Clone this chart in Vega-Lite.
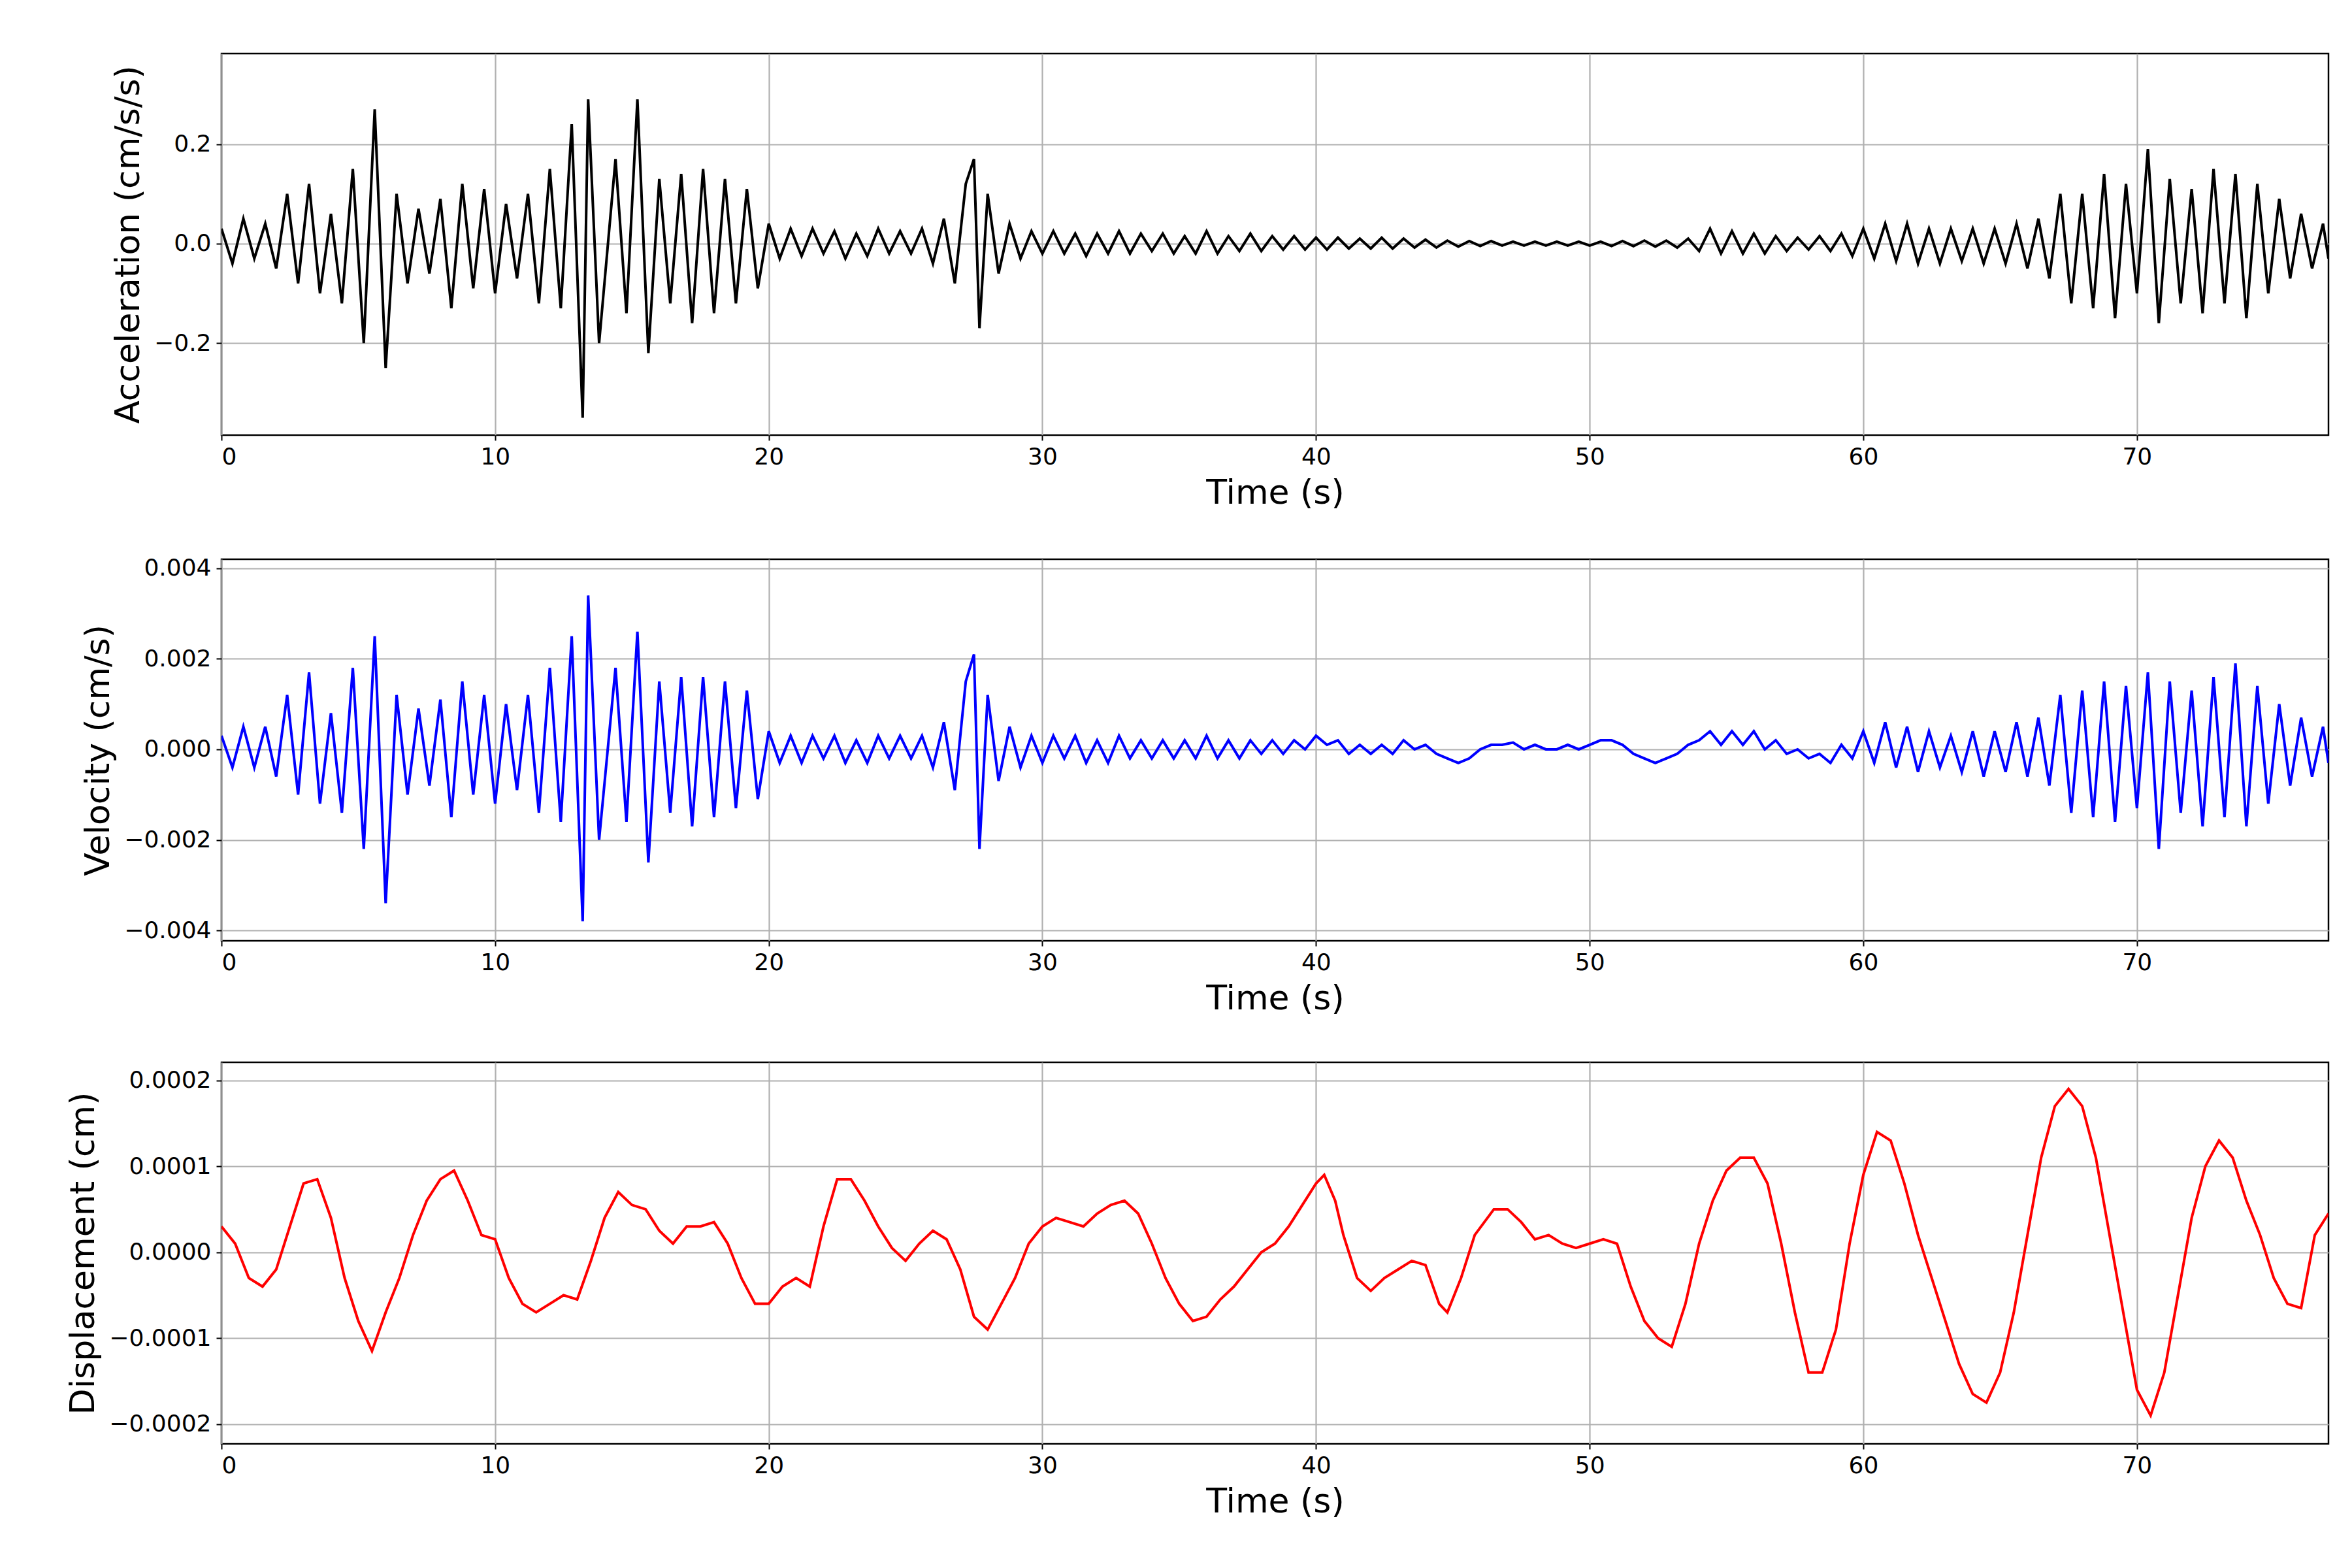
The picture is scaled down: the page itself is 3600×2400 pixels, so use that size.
{
  "$schema": "https://vega.github.io/schema/vega-lite/v6.json",
  "padding": {"left": 100, "top": 80, "right": 20, "bottom": 20},
  "background": "white",
  "config": {
    "font": "DejaVu Sans",
    "view": {"stroke": "black", "strokeWidth": 2.5},
    "axis": {
      "labelFont": "DejaVu Sans", "titleFont": "DejaVu Sans",
      "labelFontSize": 36, "titleFontSize": 52, "titleFontWeight": "normal",
      "labelColor": "black", "titleColor": "black",
      "gridColor": "#b0b0b0", "gridWidth": 2.2,
      "tickColor": "black", "tickWidth": 2, "tickSize": 8,
      "domain": false, "labelPadding": 8, "titlePadding": 12
    }
  },
  "datasets": {
    "av": [
      {"t":0,"a":0.03,"v":0.0003},{"t":0.4,"a":-0.04,"v":-0.0004},{"t":0.8,"a":0.05,"v":0.0005},{"t":1.2,"a":-0.03,"v":-0.0004},
      {"t":1.6,"a":0.04,"v":0.0005},{"t":2.0,"a":-0.05,"v":-0.0006},{"t":2.4,"a":0.1,"v":0.0012},{"t":2.8,"a":-0.08,"v":-0.001},
      {"t":3.2,"a":0.12,"v":0.0017},{"t":3.6,"a":-0.1,"v":-0.0012},{"t":4.0,"a":0.06,"v":0.0008},{"t":4.4,"a":-0.12,"v":-0.0014},
      {"t":4.8,"a":0.15,"v":0.0018},{"t":5.2,"a":-0.2,"v":-0.0022},{"t":5.6,"a":0.27,"v":0.0025},{"t":6.0,"a":-0.25,"v":-0.0034},
      {"t":6.4,"a":0.1,"v":0.0012},{"t":6.8,"a":-0.08,"v":-0.001},{"t":7.2,"a":0.07,"v":0.0009},{"t":7.6,"a":-0.06,"v":-0.0008},
      {"t":8.0,"a":0.09,"v":0.0011},{"t":8.4,"a":-0.13,"v":-0.0015},{"t":8.8,"a":0.12,"v":0.0015},{"t":9.2,"a":-0.09,"v":-0.001},
      {"t":9.6,"a":0.11,"v":0.0012},{"t":10.0,"a":-0.1,"v":-0.0012},{"t":10.4,"a":0.08,"v":0.001},{"t":10.8,"a":-0.07,"v":-0.0009},
      {"t":11.2,"a":0.1,"v":0.0012},{"t":11.6,"a":-0.12,"v":-0.0014},{"t":12.0,"a":0.15,"v":0.0018},{"t":12.4,"a":-0.13,"v":-0.0016},
      {"t":12.8,"a":0.24,"v":0.0025},{"t":13.2,"a":-0.35,"v":-0.0038},{"t":13.4,"a":0.29,"v":0.0034},{"t":13.8,"a":-0.2,"v":-0.002},
      {"t":14.4,"a":0.17,"v":0.0018},{"t":14.8,"a":-0.14,"v":-0.0016},{"t":15.2,"a":0.29,"v":0.0026},{"t":15.6,"a":-0.22,"v":-0.0025},
      {"t":16.0,"a":0.13,"v":0.0015},{"t":16.4,"a":-0.12,"v":-0.0014},{"t":16.8,"a":0.14,"v":0.0016},{"t":17.2,"a":-0.16,"v":-0.0017},
      {"t":17.6,"a":0.15,"v":0.0016},{"t":18.0,"a":-0.14,"v":-0.0015},{"t":18.4,"a":0.13,"v":0.0015},{"t":18.8,"a":-0.12,"v":-0.0013},
      {"t":19.2,"a":0.11,"v":0.0013},{"t":19.6,"a":-0.09,"v":-0.0011},{"t":20.0,"a":0.04,"v":0.0004},{"t":20.4,"a":-0.03,"v":-0.0003},
      {"t":20.8,"a":0.03,"v":0.0003},{"t":21.2,"a":-0.025,"v":-0.0003},{"t":21.6,"a":0.03,"v":0.0003},{"t":22.0,"a":-0.02,"v":-0.0002},
      {"t":22.4,"a":0.025,"v":0.0003},{"t":22.8,"a":-0.03,"v":-0.0003},{"t":23.2,"a":0.02,"v":0.0002},{"t":23.6,"a":-0.025,"v":-0.0003},
      {"t":24.0,"a":0.03,"v":0.0003},{"t":24.4,"a":-0.02,"v":-0.0002},{"t":24.8,"a":0.025,"v":0.0003},{"t":25.2,"a":-0.02,"v":-0.0002},
      {"t":25.6,"a":0.03,"v":0.0003},{"t":26.0,"a":-0.04,"v":-0.0004},{"t":26.4,"a":0.05,"v":0.0006},{"t":26.8,"a":-0.08,"v":-0.0009},
      {"t":27.2,"a":0.12,"v":0.0015},{"t":27.5,"a":0.17,"v":0.0021},{"t":27.7,"a":-0.17,"v":-0.0022},{"t":28.0,"a":0.1,"v":0.0012},
      {"t":28.4,"a":-0.06,"v":-0.0007},{"t":28.8,"a":0.04,"v":0.0005},{"t":29.2,"a":-0.03,"v":-0.0004},{"t":29.6,"a":0.025,"v":0.0003},
      {"t":30.0,"a":-0.02,"v":-0.0003},{"t":30.4,"a":0.025,"v":0.0003},{"t":30.8,"a":-0.02,"v":-0.0002},{"t":31.2,"a":0.02,"v":0.0003},
      {"t":31.6,"a":-0.025,"v":-0.0003},{"t":32.0,"a":0.02,"v":0.0002},{"t":32.4,"a":-0.02,"v":-0.0003},{"t":32.8,"a":0.025,"v":0.0003},
      {"t":33.2,"a":-0.02,"v":-0.0002},{"t":33.6,"a":0.02,"v":0.0002},{"t":34.0,"a":-0.015,"v":-0.0002},{"t":34.4,"a":0.02,"v":0.0002},
      {"t":34.8,"a":-0.02,"v":-0.0002},{"t":35.2,"a":0.015,"v":0.0002},{"t":35.6,"a":-0.02,"v":-0.0002},{"t":36.0,"a":0.025,"v":0.0003},
      {"t":36.4,"a":-0.02,"v":-0.0002},{"t":36.8,"a":0.015,"v":0.0002},{"t":37.2,"a":-0.015,"v":-0.0002},{"t":37.6,"a":0.02,"v":0.0002},
      {"t":38.0,"a":-0.015,"v":-0.0001},{"t":38.4,"a":0.015,"v":0.0002},{"t":38.8,"a":-0.012,"v":-0.0001},{"t":39.2,"a":0.015,"v":0.0002},
      {"t":39.6,"a":-0.012,"v":0.0},{"t":40.0,"a":0.012,"v":0.0003},{"t":40.4,"a":-0.012,"v":0.0001},{"t":40.8,"a":0.012,"v":0.0002},
      {"t":41.2,"a":-0.01,"v":-0.0001},{"t":41.6,"a":0.01,"v":0.0001},{"t":42.0,"a":-0.01,"v":-0.0001},{"t":42.4,"a":0.012,"v":0.0001},
      {"t":42.8,"a":-0.01,"v":-0.0001},{"t":43.2,"a":0.01,"v":0.0002},{"t":43.6,"a":-0.008,"v":0.0},{"t":44.0,"a":0.008,"v":0.0001},
      {"t":44.4,"a":-0.008,"v":-0.0001},{"t":44.8,"a":0.006,"v":-0.0002},{"t":45.2,"a":-0.006,"v":-0.0003},{"t":45.6,"a":0.005,"v":-0.0002},
      {"t":46.0,"a":-0.005,"v":0.0},{"t":46.4,"a":0.005,"v":0.0001},{"t":46.8,"a":-0.004,"v":0.0001},{"t":47.2,"a":0.004,"v":0.00015},
      {"t":47.6,"a":-0.004,"v":0.0},{"t":48.0,"a":0.004,"v":0.0001},{"t":48.4,"a":-0.004,"v":0.0},{"t":48.8,"a":0.004,"v":0.0},
      {"t":49.2,"a":-0.004,"v":0.0001},{"t":49.6,"a":0.004,"v":0.0},{"t":50.0,"a":-0.004,"v":0.0001},{"t":50.4,"a":0.004,"v":0.0002},
      {"t":50.8,"a":-0.005,"v":0.0002},{"t":51.2,"a":0.005,"v":0.0001},{"t":51.6,"a":-0.005,"v":-0.0001},{"t":52.0,"a":0.006,"v":-0.0002},
      {"t":52.4,"a":-0.006,"v":-0.0003},{"t":52.8,"a":0.006,"v":-0.0002},{"t":53.2,"a":-0.008,"v":-0.0001},{"t":53.6,"a":0.01,"v":0.0001},
      {"t":54.0,"a":-0.015,"v":0.0002},{"t":54.4,"a":0.03,"v":0.0004},{"t":54.8,"a":-0.02,"v":0.0001},{"t":55.2,"a":0.025,"v":0.0004},
      {"t":55.6,"a":-0.02,"v":0.0001},{"t":56.0,"a":0.02,"v":0.0004},{"t":56.4,"a":-0.02,"v":0.0},{"t":56.8,"a":0.015,"v":0.0002},
      {"t":57.2,"a":-0.015,"v":-0.0001},{"t":57.6,"a":0.012,"v":0.0},{"t":58.0,"a":-0.012,"v":-0.0002},{"t":58.4,"a":0.015,"v":-0.0001},
      {"t":58.8,"a":-0.015,"v":-0.0003},{"t":59.2,"a":0.02,"v":0.0001},{"t":59.6,"a":-0.025,"v":-0.0002},{"t":60.0,"a":0.03,"v":0.0004},
      {"t":60.4,"a":-0.03,"v":-0.0003},{"t":60.8,"a":0.04,"v":0.0006},{"t":61.2,"a":-0.035,"v":-0.0004},{"t":61.6,"a":0.04,"v":0.0005},
      {"t":62.0,"a":-0.04,"v":-0.0005},{"t":62.4,"a":0.03,"v":0.0004},{"t":62.8,"a":-0.04,"v":-0.0004},{"t":63.2,"a":0.03,"v":0.0003},
      {"t":63.6,"a":-0.035,"v":-0.0005},{"t":64.0,"a":0.03,"v":0.0004},{"t":64.4,"a":-0.04,"v":-0.0006},{"t":64.8,"a":0.03,"v":0.0004},
      {"t":65.2,"a":-0.04,"v":-0.0005},{"t":65.6,"a":0.04,"v":0.0006},{"t":66.0,"a":-0.05,"v":-0.0006},{"t":66.4,"a":0.05,"v":0.0007},
      {"t":66.8,"a":-0.07,"v":-0.0008},{"t":67.2,"a":0.1,"v":0.0012},{"t":67.6,"a":-0.12,"v":-0.0014},{"t":68.0,"a":0.1,"v":0.0013},
      {"t":68.4,"a":-0.13,"v":-0.0015},{"t":68.8,"a":0.14,"v":0.0015},{"t":69.2,"a":-0.15,"v":-0.0016},{"t":69.6,"a":0.12,"v":0.0014},
      {"t":70.0,"a":-0.1,"v":-0.0013},{"t":70.4,"a":0.19,"v":0.0017},{"t":70.8,"a":-0.16,"v":-0.0022},{"t":71.2,"a":0.13,"v":0.0015},
      {"t":71.6,"a":-0.12,"v":-0.0014},{"t":72.0,"a":0.11,"v":0.0013},{"t":72.4,"a":-0.14,"v":-0.0017},{"t":72.8,"a":0.15,"v":0.0016},
      {"t":73.2,"a":-0.12,"v":-0.0015},{"t":73.6,"a":0.14,"v":0.0019},{"t":74.0,"a":-0.15,"v":-0.0017},{"t":74.4,"a":0.12,"v":0.0014},
      {"t":74.8,"a":-0.1,"v":-0.0012},{"t":75.2,"a":0.09,"v":0.001},{"t":75.6,"a":-0.07,"v":-0.0008},{"t":76.0,"a":0.06,"v":0.0007},
      {"t":76.4,"a":-0.05,"v":-0.0006},{"t":76.8,"a":0.04,"v":0.0005},{"t":77.0,"a":-0.03,"v":-0.0003}
    ],
    "disp": [
      {"t":0,"d":3e-5},{"t":0.5,"d":1e-5},{"t":1,"d":-3e-5},{"t":1.5,"d":-4e-5},{"t":2,"d":-2e-5},{"t":2.5,"d":3e-5},{"t":3,"d":8e-5},{"t":3.5,"d":8.5e-5},
      {"t":4,"d":4e-5},{"t":4.5,"d":-3e-5},{"t":5,"d":-8e-5},{"t":5.5,"d":-1.15e-4},{"t":6,"d":-7e-5},{"t":6.5,"d":-3e-5},{"t":7,"d":2e-5},{"t":7.5,"d":6e-5},
      {"t":8,"d":8.5e-5},{"t":8.5,"d":9.5e-5},{"t":9,"d":6e-5},{"t":9.5,"d":2e-5},{"t":10,"d":1.5e-5},{"t":10.5,"d":-3e-5},{"t":11,"d":-6e-5},{"t":11.5,"d":-7e-5},
      {"t":12,"d":-6e-5},{"t":12.5,"d":-5e-5},{"t":13,"d":-5.5e-5},{"t":13.5,"d":-1e-5},{"t":14,"d":4e-5},{"t":14.5,"d":7e-5},{"t":15,"d":5.5e-5},{"t":15.5,"d":5e-5},
      {"t":16,"d":2.5e-5},{"t":16.5,"d":1e-5},{"t":17,"d":3e-5},{"t":17.5,"d":3e-5},{"t":18,"d":3.5e-5},{"t":18.5,"d":1e-5},{"t":19,"d":-3e-5},{"t":19.5,"d":-6e-5},
      {"t":20,"d":-6e-5},{"t":20.5,"d":-4e-5},{"t":21,"d":-3e-5},{"t":21.5,"d":-4e-5},{"t":22,"d":3e-5},{"t":22.5,"d":8.5e-5},{"t":23,"d":8.5e-5},{"t":23.5,"d":6e-5},
      {"t":24,"d":3e-5},{"t":24.5,"d":5e-6},{"t":25,"d":-1e-5},{"t":25.5,"d":1e-5},{"t":26,"d":2.5e-5},{"t":26.5,"d":1.5e-5},{"t":27,"d":-2e-5},{"t":27.5,"d":-7.5e-5},
      {"t":28,"d":-9e-5},{"t":28.5,"d":-6e-5},{"t":29,"d":-3e-5},{"t":29.5,"d":1e-5},{"t":30,"d":3e-5},{"t":30.5,"d":4e-5},{"t":31,"d":3.5e-5},{"t":31.5,"d":3e-5},
      {"t":32,"d":4.5e-5},{"t":32.5,"d":5.5e-5},{"t":33,"d":6e-5},{"t":33.5,"d":4.5e-5},{"t":34,"d":1e-5},{"t":34.5,"d":-3e-5},{"t":35,"d":-6e-5},{"t":35.5,"d":-8e-5},
      {"t":36,"d":-7.5e-5},{"t":36.5,"d":-5.5e-5},{"t":37,"d":-4e-5},{"t":37.5,"d":-2e-5},{"t":38,"d":0},{"t":38.5,"d":1e-5},{"t":39,"d":3e-5},{"t":39.5,"d":5.5e-5},
      {"t":40,"d":8e-5},{"t":40.3,"d":9e-5},{"t":40.7,"d":6e-5},{"t":41,"d":2e-5},{"t":41.5,"d":-3e-5},{"t":42,"d":-4.5e-5},{"t":42.5,"d":-3e-5},{"t":43,"d":-2e-5},
      {"t":43.5,"d":-1e-5},{"t":44,"d":-1.5e-5},{"t":44.5,"d":-6e-5},{"t":44.8,"d":-7e-5},{"t":45.3,"d":-3e-5},{"t":45.8,"d":2e-5},{"t":46.5,"d":5e-5},{"t":47,"d":5e-5},
      {"t":47.5,"d":3.5e-5},{"t":48,"d":1.5e-5},{"t":48.5,"d":2e-5},{"t":49,"d":1e-5},{"t":49.5,"d":5e-6},{"t":50,"d":1e-5},{"t":50.5,"d":1.5e-5},{"t":51,"d":1e-5},
      {"t":51.5,"d":-4e-5},{"t":52,"d":-8e-5},{"t":52.5,"d":-1e-4},{"t":53,"d":-1.1e-4},{"t":53.5,"d":-6e-5},{"t":54,"d":1e-5},{"t":54.5,"d":6e-5},{"t":55,"d":9.5e-5},
      {"t":55.5,"d":1.1e-4},{"t":56,"d":1.1e-4},{"t":56.5,"d":8e-5},{"t":57,"d":1e-5},{"t":57.5,"d":-7e-5},{"t":58,"d":-1.4e-4},{"t":58.5,"d":-1.4e-4},{"t":59,"d":-9e-5},
      {"t":59.5,"d":1e-5},{"t":60,"d":9e-5},{"t":60.5,"d":1.4e-4},{"t":61,"d":1.3e-4},{"t":61.5,"d":8e-5},{"t":62,"d":2e-5},{"t":62.5,"d":-3e-5},{"t":63,"d":-8e-5},
      {"t":63.5,"d":-1.3e-4},{"t":64,"d":-1.65e-4},{"t":64.5,"d":-1.75e-4},{"t":65,"d":-1.4e-4},{"t":65.5,"d":-7e-5},{"t":66,"d":2e-5},{"t":66.5,"d":1.1e-4},{"t":67,"d":1.7e-4},
      {"t":67.5,"d":1.9e-4},{"t":68,"d":1.7e-4},{"t":68.5,"d":1.1e-4},{"t":69,"d":2e-5},{"t":69.5,"d":-7e-5},{"t":70,"d":-1.6e-4},{"t":70.5,"d":-1.9e-4},{"t":71,"d":-1.4e-4},
      {"t":71.5,"d":-5e-5},{"t":72,"d":4e-5},{"t":72.5,"d":1e-4},{"t":73,"d":1.3e-4},{"t":73.5,"d":1.1e-4},{"t":74,"d":6e-5},{"t":74.5,"d":2e-5},{"t":75,"d":-3e-5},
      {"t":75.5,"d":-6e-5},{"t":76,"d":-6.5e-5},{"t":76.5,"d":2e-5},{"t":77,"d":4.5e-5}
    ]
  },
  "vconcat": [
    {
      "width": 3225, "height": 584,
      "data": {"name": "av"},
      "mark": {"type": "line", "color": "black", "strokeWidth": 4, "clip": true},
      "encoding": {
        "x": {"field": "t", "type": "quantitative", "scale": {"domain": [0, 77], "nice": false, "zero": false},
          "axis": {"title": "Time (s)", "values": [0,10,20,30,40,50,60,70], "format": "d"}},
        "y": {"field": "a", "type": "quantitative", "scale": {"domain": [-0.385, 0.382], "nice": false},
          "axis": {"title": "Acceleration (cm/s/s)", "values": [-0.2, 0, 0.2], "format": ".1f"}}
      }
    },
    {
      "width": 3225, "height": 584,
      "data": {"name": "av"},
      "mark": {"type": "line", "color": "blue", "strokeWidth": 4, "clip": true},
      "encoding": {
        "x": {"field": "t", "type": "quantitative", "scale": {"domain": [0, 77], "nice": false, "zero": false},
          "axis": {"title": "Time (s)", "values": [0,10,20,30,40,50,60,70], "format": "d"}},
        "y": {"field": "v", "type": "quantitative", "scale": {"domain": [-0.00423, 0.0042], "nice": false},
          "axis": {"title": "Velocity (cm/s)", "values": [-0.004, -0.002, 0, 0.002, 0.004], "format": ".3f"}}
      }
    },
    {
      "width": 3225, "height": 584,
      "data": {"name": "disp"},
      "mark": {"type": "line", "color": "red", "strokeWidth": 4, "clip": true},
      "encoding": {
        "x": {"field": "t", "type": "quantitative", "scale": {"domain": [0, 77], "nice": false, "zero": false},
          "axis": {"title": "Time (s)", "values": [0,10,20,30,40,50,60,70], "format": "d"}},
        "y": {"field": "d", "type": "quantitative", "scale": {"domain": [-0.000223, 0.000221], "nice": false},
          "axis": {"title": "Displacement (cm)", "values": [-0.0002, -0.0001, 0, 0.0001, 0.0002], "format": ".4f"}}
      }
    }
  ],
  "spacing": 68
}
